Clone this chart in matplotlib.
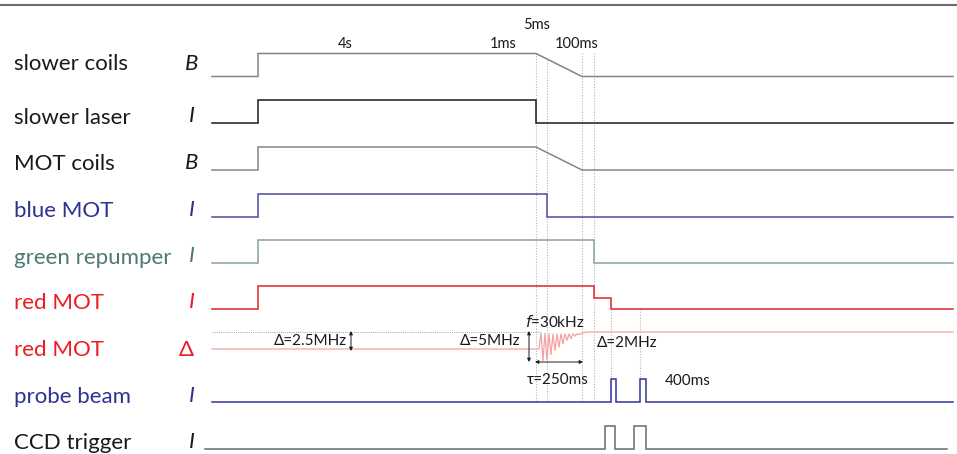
import matplotlib.pyplot as plt

# row labels and the physical quantity drawn in each row
labels = ['slower coils', 'slower laser', 'MOT coils', 'blue MOT', 'green repumper',
          'red MOT', 'red MOT', 'probe beam', 'CCD trigger']
symbols = ['B', 'I', 'B', 'I', 'I', 'I', '\u0394', 'I', 'I']

# schematic time axis (arbitrary units, not to scale)
t_start = 212
t_on = 258
t_off = 536      # 1ms
t_blue = 547     # 5ms
t_ramp = 582     # end of ramps
t_green = 594    # 100ms
t_red2 = 611
t_end = 953

# signal levels (0 = off, 1 = on)
slower_coils_t = [t_start, t_on, t_on, t_off, t_ramp, t_end]
slower_coils_v = [0, 0, 1, 1, 0, 0]
slower_laser_t = [t_start, t_on, t_on, t_off, t_off, t_end]
slower_laser_v = [0, 0, 1, 1, 0, 0]
mot_coils_t = [t_start, t_on, t_on, t_off, t_ramp, t_end]
mot_coils_v = [0, 0, 1, 1, 0, 0]
blue_mot_t = [t_start, t_on, t_on, t_blue, t_blue, t_end]
blue_mot_v = [0, 0, 1, 1, 0, 0]
green_rep_t = [t_start, t_on, t_on, t_green, t_green, t_end]
green_rep_v = [0, 0, 1, 1, 0, 0]
red_i_t = [t_start, t_on, t_on, t_green, t_green, t_red2, t_red2, t_end]
red_i_v = [0, 0, 1, 1, 0.5, 0.5, 0, 0]
# detuning: 0 = 2.5MHz start level, 1 = final level, damped oscillation
red_d_t = [t_start, 539, 541, 543, 545, 547, 549, 551, 553, 555, 557, 559, 561, 563,
           565, 567, 569, 571, 573, 575, 577, 579, 582, 587, t_end]
red_d_v = [0, 0, 0.95, -0.7, 0.95, -0.65, 0.9, -0.35, 0.9, -0.1, 0.9, 0.1, 0.9, 0.3,
           0.9, 0.5, 0.9, 0.6, 0.9, 0.75, 0.9, 0.85, 0.95, 1, 1]
probe_t = [t_start, 611, 611, 616, 616, 640, 640, 646, 646, t_end]
probe_v = [0, 0, 1, 1, 0, 0, 1, 1, 0, 0]
ccd_t = [205, 605, 605, 615, 615, 634, 634, 646, 646, 947]
ccd_v = [0, 0, 1, 1, 0, 0, 1, 1, 0, 0]

signals = [(slower_coils_t, slower_coils_v), (slower_laser_t, slower_laser_v),
           (mot_coils_t, mot_coils_v), (blue_mot_t, blue_mot_v),
           (green_rep_t, green_rep_v), (red_i_t, red_i_v), (red_d_t, red_d_v),
           (probe_t, probe_v), (ccd_t, ccd_v)]

# layout of rows (pixel-ish units on the canvas)
base = [76.5, 123, 170, 216.5, 263, 309, 349, 402, 449]
amp = [23, 23, 23, 23, 23, 23, 17, 23, 23]
label_y = [64.5, 117.5, 164, 211, 257.5, 303, 349.5, 397, 443]
line_colors = ['#858585', '#1a1a1a', '#858585', '#4a4aa0', '#86a29e', '#e3222a',
               '#f5a2a2', '#32349a', '#6a6a6a']
text_colors = ['#1a1a1a', '#1a1a1a', '#1a1a1a', '#2e3192', '#4e7875', '#ed1c24',
               '#ed1c24', '#2e3192', '#1a1a1a']

plt.rcParams['font.family'] = ['Lato', 'DejaVu Sans']

fig = plt.figure(figsize=(9.57, 4.54), dpi=100, facecolor='white')
ax = fig.add_axes([0, 0, 1, 1])
ax.set_xlim(0, 957)
ax.set_ylim(454, 0)
ax.axis('off')

# top rule
ax.plot([0, 957], [5, 5], color='#6d6d6d', lw=1.5)

# vertical dotted guides
guides = [(t_off, 53, 402), (t_blue, 60, 402), (t_ramp, 53, 402), (t_green, 53, 402),
          (t_red2, 309, 402), (640, 309, 380)]
for gx, y0, y1 in guides:
    ax.plot([gx, gx], [y0, y1], color='#b5b5b5', lw=0.8, ls=(0, (1, 1.5)), zorder=1)

# horizontal dotted reference for detuning
ax.plot([t_start, 540], [332, 332], color='#a0a0a0', lw=0.7, ls=(0, (1, 1.2)), zorder=1)

for i, (t, v) in enumerate(signals):
    y = [base[i] - amp[i] * lv for lv in v]
    lw = 0.9 if i == 6 else 1.1
    ax.plot(t, y, color=line_colors[i], lw=lw, zorder=3, solid_joinstyle='miter')
    ax.text(14, label_y[i], labels[i], fontsize=16, color=text_colors[i],
            ha='left', va='center')
    if symbols[i] == '\u0394':
        ax.text(186, label_y[i], symbols[i], fontsize=16, color=text_colors[i],
                ha='center', va='center')
    else:
        ax.text(192, label_y[i] - 1, symbols[i], fontsize=16, color=text_colors[i],
                ha='center', va='center', style='italic')

# timing labels
small = 10.5
ax.text(345, 44, '4s', fontsize=small, ha='center', va='center', color='#1a1a1a')
ax.text(503, 44, '1ms', fontsize=small, ha='center', va='center', color='#1a1a1a')
ax.text(537, 25, '5ms', fontsize=small, ha='center', va='center', color='#1a1a1a')
ax.text(577, 44, '100ms', fontsize=small, ha='center', va='center', color='#1a1a1a')

# detuning annotations
ann = 11
ax.text(347, 341, '\u0394=2.5MHz', fontsize=ann, ha='right', va='center', color='#1a1a1a')
ax.annotate('', xy=(351, 331), xytext=(351, 351),
            arrowprops=dict(arrowstyle='<|-|>', color='#1a1a1a', lw=0.7,
                            mutation_scale=5, shrinkA=0, shrinkB=0))
ax.text(520, 341, '\u0394=5MHz', fontsize=ann, ha='right', va='center', color='#1a1a1a')
ax.annotate('', xy=(529, 331), xytext=(529, 362),
            arrowprops=dict(arrowstyle='<|-|>', color='#1a1a1a', lw=0.7,
                            mutation_scale=5, shrinkA=0, shrinkB=0))
ax.text(555, 322, '$f$=30kHz', fontsize=ann, ha='center', va='center', color='#1a1a1a')
ax.annotate('', xy=(535, 362), xytext=(583, 362),
            arrowprops=dict(arrowstyle='<|-|>', color='#1a1a1a', lw=0.7,
                            mutation_scale=5, shrinkA=0, shrinkB=0))
ax.text(558, 380, '\u03c4=250ms', fontsize=ann, ha='center', va='center', color='#1a1a1a')
ax.text(597, 343, '\u0394=2MHz', fontsize=ann, ha='left', va='center', color='#1a1a1a')
ax.text(665, 381, '400ms', fontsize=ann, ha='left', va='center', color='#1a1a1a')

plt.savefig('out.png', dpi=100, facecolor='white')
